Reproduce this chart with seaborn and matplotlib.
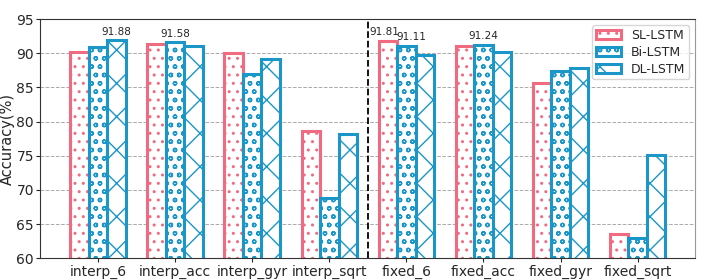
import numpy as np
import pandas as pd
import seaborn as sns
import matplotlib.pyplot as plt

# Data
categories = ['interp_6', 'interp_acc', 'interp_gyr', 'interp_sqrt',
              'fixed_6', 'fixed_acc', 'fixed_gyr', 'fixed_sqrt']
models = ['SL-LSTM', 'Bi-LSTM', 'DL-LSTM']
sl_lstm = [90.2, 91.4, 90.0, 78.6, 91.81, 91.0, 85.7, 63.6]
bi_lstm = [90.9, 91.58, 87.0, 68.8, 91.11, 91.24, 87.4, 63.0]
dl_lstm = [91.88, 91.0, 89.1, 78.2, 89.8, 90.2, 87.8, 75.1]
highlights = [('interp_6', 'DL-LSTM', 91.88), ('interp_acc', 'Bi-LSTM', 91.58),
              ('fixed_6', 'SL-LSTM', 91.81), ('fixed_6', 'Bi-LSTM', 91.11),
              ('fixed_acc', 'Bi-LSTM', 91.24)]

df = pd.DataFrame({
    'category': categories * 3,
    'model': np.repeat(models, len(categories)),
    'acc': sl_lstm + bi_lstm + dl_lstm,
})

colors = ['#f06b80', '#1a96c8', '#1a96c8']
hatches = ['..', 'oo', 'x']

sns.set_style('white')
plt.rcParams['hatch.linewidth'] = 1.0
fig, ax = plt.subplots(figsize=(7.06, 2.8), dpi=100)
sns.barplot(data=df, x='category', y='acc', hue='model', order=categories,
            hue_order=models, width=0.72, ax=ax, palette=colors)

for cont, c, h in zip(ax.containers, colors, hatches):
    for p in cont.patches:
        p.set_facecolor('white')
        p.set_edgecolor(c)
        p.set_hatch(h)
        p.set_linewidth(2.2)

# value labels on selected bars (pull apart two labels sharing a group)
bw = 0.72 / 3
cats_hl = [h[0] for h in highlights]
for cat, m, v in highlights:
    x = categories.index(cat) + (models.index(m) - 1) * bw
    if cats_hl.count(cat) > 1:
        x += -0.04 if m == 'SL-LSTM' else 0.06
    ax.text(x, v + 0.5, f'{v:.2f}', ha='center', va='bottom', fontsize=7.5)

ax.axvline(3.5, color='black', linestyle='--', linewidth=1.3)
ax.set_ylim(60, 95)
ax.set_xlim(-0.75, 7.75)
ax.set_yticks([60, 65, 70, 75, 80, 85, 90, 95])
ax.yaxis.grid(True, linestyle='--', color='#aaaaaa', linewidth=0.7)
ax.set_axisbelow(True)
ax.set_xlabel('')
ax.set_ylabel('Accuracy(%)', fontsize=10.5, labelpad=1)
ax.tick_params(axis='both', labelsize=10, length=3, pad=1.5, left=True, bottom=True)
ax.spines['right'].set_color('#999999')
for s in ['left', 'bottom', 'top']:
    ax.spines[s].set_color('#333333')

leg = ax.legend(loc='upper right', fontsize=9, handlelength=2.0, handleheight=0.7,
                labelspacing=0.3, borderpad=0.3, handletextpad=0.8)
for hnd, c, h in zip(leg.legend_handles, colors, hatches):
    hnd.set_facecolor('white')
    hnd.set_edgecolor(c)
    hnd.set_hatch(h)
    hnd.set_linewidth(2.2)

plt.subplots_adjust(left=0.057, right=0.985, top=0.932, bottom=0.078)
plt.savefig('out.png', dpi=100)
